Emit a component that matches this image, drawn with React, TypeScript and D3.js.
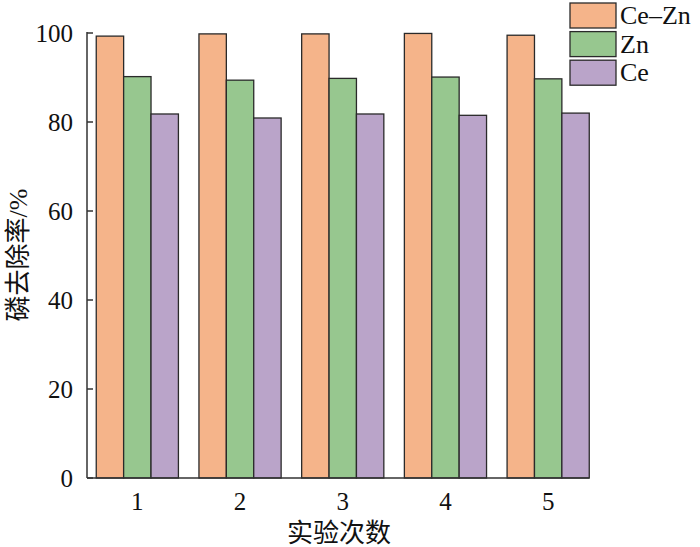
import * as d3 from 'd3';
import { useEffect, useRef } from 'react';

const runs = ['1', '2', '3', '4', '5'];
const seriesNames = ['Ce–Zn', 'Zn', 'Ce'];
const ceZn = [99.3, 99.8, 99.8, 99.9, 99.5];
const zn = [90.2, 89.4, 89.8, 90.1, 89.7];
const ce = [81.8, 80.9, 81.8, 81.5, 82.0];
const yTicks = [0, 20, 40, 60, 80, 100];

const colors = ['#F5B48A', '#97C78F', '#BAA4C9'];

const serif = "'Liberation Serif', 'Times New Roman', 'DejaVu Serif', serif";
const cjk = "'Liberation Serif', 'Noto Sans CJK SC', serif";

export default function App() {
  const ref = useRef<SVGSVGElement | null>(null);

  useEffect(() => {
    if (!ref.current) return;
    const width = 700;
    const height = 547;
    const svg = d3.select(ref.current).attr('width', width).attr('height', height);
    svg.selectAll('*').remove();

    const x0 = 87;
    const y0 = 478;

    // outer band per run, inner band per series
    const x = d3.scaleBand<string>().domain(runs).range([x0, x0 + 5 * 102.3]).paddingInner(0.2).paddingOuter(0.09);
    const xi = d3.scaleBand<string>().domain(seriesNames).range([0, x.bandwidth()]);
    const y = d3.scaleLinear().domain([0, 100]).range([y0, 33]);

    const values = [ceZn, zn, ce];
    const rows = runs.flatMap((r, i) =>
      seriesNames.map((s, j) => ({ run: r, series: s, value: values[j][i], color: colors[j] })),
    );

    svg
      .append('g')
      .selectAll('rect')
      .data(rows)
      .join('rect')
      .attr('x', (d) => (x(d.run) ?? 0) + (xi(d.series) ?? 0))
      .attr('y', (d) => y(d.value))
      .attr('width', xi.bandwidth())
      .attr('height', (d) => y0 - y(d.value))
      .attr('fill', (d) => d.color)
      .attr('stroke', '#2a2a2a')
      .attr('stroke-width', 1.3);

    const lastRun = runs[runs.length - 1];
    const xEnd = (x(lastRun) ?? 0) + x.bandwidth();

    // axes
    const axisColor = '#333';
    svg.append('line').attr('x1', x0).attr('x2', x0).attr('y1', y(100) - 1).attr('y2', y0)
      .attr('stroke', axisColor).attr('stroke-width', 1.5);
    svg.append('line').attr('x1', x0).attr('x2', xEnd).attr('y1', y0).attr('y2', y0)
      .attr('stroke', axisColor).attr('stroke-width', 1.5);

    const yt = svg.append('g');
    yt.selectAll('line').data(yTicks).join('line')
      .attr('x1', x0).attr('x2', x0 + 6)
      .attr('y1', (d) => y(d)).attr('y2', (d) => y(d))
      .attr('stroke', axisColor).attr('stroke-width', 1.5);
    yt.selectAll('text').data(yTicks).join('text')
      .attr('x', 73).attr('y', (d) => y(d)).attr('dy', '0.35em')
      .attr('text-anchor', 'end')
      .style('font-family', serif).attr('font-size', 25).attr('fill', '#111')
      .text((d) => d);

    svg.append('g').selectAll('text').data(runs).join('text')
      .attr('x', (d) => (x(d) ?? 0) + x.bandwidth() / 2)
      .attr('y', 510)
      .attr('text-anchor', 'middle')
      .style('font-family', serif).attr('font-size', 25).attr('fill', '#111')
      .text((d) => d);

    svg.append('text')
      .attr('x', 339).attr('y', 542)
      .attr('text-anchor', 'middle')
      .style('font-family', cjk).attr('font-size', 26).attr('fill', '#111')
      .text('实验次数');

    svg.append('text')
      .attr('transform', 'translate(27,255) rotate(-90)')
      .attr('text-anchor', 'middle')
      .style('font-family', cjk).attr('font-size', 26).attr('fill', '#111')
      .text('磷去除率/%');

    // legend
    const lg = svg.append('g').attr('transform', 'translate(570,3)');
    const item = lg.selectAll('g').data(seriesNames).join('g')
      .attr('transform', (_, i) => `translate(0,${i * 28.6})`);
    item.append('rect')
      .attr('width', 46).attr('height', 25)
      .attr('fill', (_, i) => colors[i])
      .attr('stroke', '#2a2a2a').attr('stroke-width', 1.3);
    item.append('text')
      .attr('x', 50).attr('y', 21)
      .style('font-family', serif).attr('font-size', 26).attr('fill', '#111')
      .text((d) => d);
  }, []);

  return (
    <div style={{ position: 'absolute', left: 0, top: 0 }}>
      <svg ref={ref} />
    </div>
  );
}
